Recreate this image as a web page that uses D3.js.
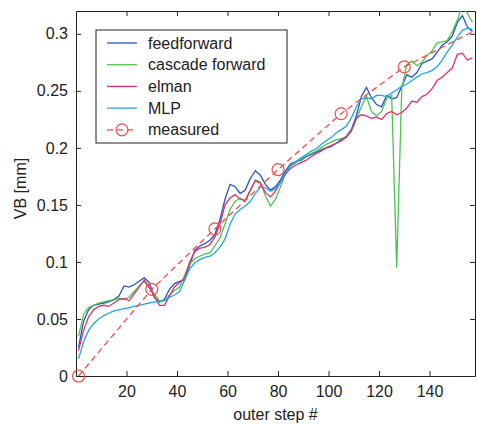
<!DOCTYPE html>
<html>
<head>
<meta charset="utf-8">
<script src="https://cdn.jsdelivr.net/npm/d3@7"></script>
<style>
  body { margin: 0; background: #fff; }
  svg text { font-family: "Liberation Sans", Arial, sans-serif; fill: #222; }
</style>
</head>
<body>
<div id="chart"></div>
<script>
// outer steps shared by the network curves
const steps = d3.range(1, 158, 2)

const feedforward = [
  0.025, 0.048, 0.058, 0.062, 0.063, 0.064, 0.065, 0.067, 0.070, 0.079,
  0.078, 0.080, 0.083, 0.086, 0.082, 0.069, 0.065, 0.067, 0.076, 0.081,
  0.083, 0.084, 0.097, 0.110, 0.114, 0.116, 0.119, 0.124, 0.137, 0.155,
  0.168, 0.166, 0.160, 0.163, 0.173, 0.180, 0.176, 0.168, 0.163, 0.166,
  0.172, 0.180, 0.186, 0.188, 0.189, 0.192, 0.194, 0.196, 0.198, 0.200,
  0.201, 0.204, 0.207, 0.210, 0.216, 0.228, 0.245, 0.253, 0.244, 0.238,
  0.236, 0.246, 0.243, 0.244, 0.254, 0.264, 0.262, 0.266, 0.274, 0.276,
  0.278, 0.284, 0.290, 0.293, 0.298, 0.310, 0.316, 0.306, 0.302
]
const cascade = [
  0.035, 0.054, 0.060, 0.062, 0.064, 0.065, 0.066, 0.067, 0.068, 0.067,
  0.069, 0.074, 0.079, 0.083, 0.077, 0.072, 0.066, 0.066, 0.071, 0.075,
  0.078, 0.088, 0.098, 0.103, 0.105, 0.107, 0.108, 0.114, 0.121, 0.133,
  0.146, 0.153, 0.156, 0.153, 0.162, 0.172, 0.170, 0.158, 0.149, 0.155,
  0.166, 0.178, 0.184, 0.187, 0.190, 0.193, 0.195, 0.197, 0.200, 0.203,
  0.205, 0.207, 0.208, 0.210, 0.214, 0.225, 0.236, 0.245, 0.232, 0.228,
  0.232, 0.243, 0.246, 0.095, 0.252, 0.273, 0.276, 0.272, 0.275, 0.281,
  0.285, 0.292, 0.293, 0.294, 0.302, 0.312, 0.324, 0.318, 0.310
]
const elman = [
  0.022, 0.040, 0.052, 0.058, 0.061, 0.062, 0.061, 0.064, 0.067, 0.068,
  0.066, 0.072, 0.078, 0.084, 0.078, 0.070, 0.062, 0.062, 0.070, 0.078,
  0.082, 0.086, 0.100, 0.109, 0.112, 0.113, 0.115, 0.122, 0.133, 0.150,
  0.156, 0.159, 0.155, 0.154, 0.163, 0.171, 0.169, 0.161, 0.157, 0.162,
  0.170, 0.177, 0.182, 0.185, 0.187, 0.189, 0.192, 0.195, 0.197, 0.200,
  0.202, 0.204, 0.206, 0.209, 0.215, 0.226, 0.229, 0.228, 0.226, 0.227,
  0.225, 0.230, 0.232, 0.229, 0.231, 0.235, 0.241, 0.240, 0.245, 0.247,
  0.252, 0.259, 0.262, 0.266, 0.270, 0.282, 0.283, 0.277, 0.279
]
const mlp = [
  0.015, 0.030, 0.040, 0.046, 0.050, 0.053, 0.055, 0.057, 0.058, 0.059,
  0.060, 0.061, 0.062, 0.063, 0.064, 0.065, 0.065, 0.066, 0.069, 0.071,
  0.074, 0.084, 0.094, 0.099, 0.102, 0.104, 0.105, 0.108, 0.113, 0.120,
  0.133, 0.142, 0.146, 0.149, 0.153, 0.160, 0.166, 0.165, 0.162, 0.164,
  0.170, 0.178, 0.184, 0.188, 0.191, 0.194, 0.197, 0.199, 0.203, 0.206,
  0.209, 0.213, 0.216, 0.219, 0.226, 0.236, 0.243, 0.244, 0.243, 0.246,
  0.246, 0.245, 0.248, 0.251, 0.254, 0.256, 0.259, 0.262, 0.265, 0.266,
  0.268, 0.271, 0.277, 0.284, 0.290, 0.297, 0.303, 0.305, 0.304
]

// measured wear, circles only on the sampled points
const measuredSteps = [1, 30, 55, 80, 105, 130, 158]
const measuredVB = [0, 0.076, 0.129, 0.181, 0.230, 0.271, 0.303]
const markerCount = 6

const xTicks = [20, 40, 60, 80, 100, 120, 140]
const yTicks = [0, 0.05, 0.1, 0.15, 0.2, 0.25, 0.3]

const series = [
  {name: "feedforward", values: feedforward, color: "#2456c8"},
  {name: "cascade forward", values: cascade, color: "#4cc44c"},
  {name: "elman", values: elman, color: "#e0306e"},
  {name: "MLP", values: mlp, color: "#1ea6e6"}
]
const measuredColor = "#f04a4a"

const width = 477, height = 424
const margin = {top: 11, right: 2, bottom: 48, left: 76}
const innerW = width - margin.left - margin.right
const innerH = height - margin.top - margin.bottom

const svg = d3.select("#chart").append("svg")
  .attr("width", width)
  .attr("height", height)

const x = d3.scaleLinear().domain([0, 158]).range([margin.left, margin.left + innerW])
const y = d3.scaleLinear().domain([0, 0.32]).range([margin.top + innerH, margin.top])

svg.append("clipPath").attr("id", "plot-clip")
  .append("rect")
  .attr("x", margin.left).attr("y", margin.top)
  .attr("width", innerW).attr("height", innerH)

// axes, MATLAB style: ticks inside, box on
const tick = 5
svg.append("g")
  .attr("transform", `translate(0,${margin.top + innerH})`)
  .call(d3.axisBottom(x).tickValues(xTicks).tickSizeInner(-tick).tickSizeOuter(0).tickPadding(10))
svg.append("g")
  .attr("transform", `translate(0,${margin.top})`)
  .call(d3.axisTop(x).tickValues(xTicks).tickSizeInner(-tick).tickSizeOuter(0).tickFormat(""))
svg.append("g")
  .attr("transform", `translate(${margin.left},0)`)
  .call(d3.axisLeft(y).tickValues(yTicks).tickSizeInner(-tick).tickSizeOuter(0).tickPadding(8).tickFormat(d3.format("~g")))
svg.append("g")
  .attr("transform", `translate(${margin.left + innerW},0)`)
  .call(d3.axisRight(y).tickValues(yTicks).tickSizeInner(-tick).tickSizeOuter(0).tickFormat(""))

svg.selectAll(".domain").attr("stroke", "#222")
svg.selectAll(".tick line").attr("stroke", "#222")
svg.selectAll(".tick text").attr("font-size", 16).attr("fill", "#222")

const plot = svg.append("g").attr("clip-path", "url(#plot-clip)")

const line = d3.line()
  .x((d, i) => x(steps[i]))
  .y(d => y(d))

plot.selectAll(".net")
  .data(series)
  .enter()
  .append("path")
  .attr("class", "net")
  .attr("fill", "none")
  .attr("stroke", d => d.color)
  .attr("stroke-width", 1.3)
  .attr("d", d => line(d.values))

const measuredLine = d3.line()
  .x((d, i) => x(measuredSteps[i]))
  .y(d => y(d))

plot.append("path")
  .attr("fill", "none")
  .attr("stroke", measuredColor)
  .attr("stroke-width", 1.3)
  .attr("stroke-dasharray", "6,4")
  .attr("d", measuredLine(measuredVB))

svg.selectAll(".marker")
  .data(measuredVB.slice(0, markerCount))
  .enter()
  .append("circle")
  .attr("class", "marker")
  .attr("cx", (d, i) => x(measuredSteps[i]))
  .attr("cy", d => y(d))
  .attr("r", 6)
  .attr("fill", "none")
  .attr("stroke", measuredColor)
  .attr("stroke-width", 1.2)

// legend
const legend = svg.append("g")
legend.append("rect")
  .attr("x", 96).attr("y", 30)
  .attr("width", 191).attr("height", 113)
  .attr("fill", "#fff").attr("stroke", "#222")

const legendItems = series.map(s => ({name: s.name, color: s.color, dashed: false}))
  .concat([{name: "measured", color: measuredColor, dashed: true}])

const rows = legend.selectAll(".item")
  .data(legendItems)
  .enter()
  .append("g")
  .attr("transform", (d, i) => `translate(0,${43 + i * 21.7})`)

rows.append("line")
  .attr("x1", 107).attr("x2", 137)
  .attr("stroke", d => d.color)
  .attr("stroke-width", 1.3)
  .attr("stroke-dasharray", d => d.dashed ? "6,4" : null)
rows.filter(d => d.dashed).append("circle")
  .attr("cx", 122).attr("r", 6)
  .attr("fill", "none").attr("stroke", d => d.color).attr("stroke-width", 1.2)
rows.append("text")
  .attr("x", 148).attr("dy", "0.35em")
  .attr("font-size", 16)
  .text(d => d.name)

svg.append("text")
  .attr("x", margin.left + innerW / 2)
  .attr("y", 420)
  .attr("text-anchor", "middle")
  .attr("font-size", 16)
  .text("outer step #")

svg.append("text")
  .attr("transform", `translate(26,${margin.top + innerH / 2 - 5}) rotate(-90)`)
  .attr("text-anchor", "middle")
  .attr("font-size", 16)
  .text("VB [mm]")
</script>
</body>
</html>
